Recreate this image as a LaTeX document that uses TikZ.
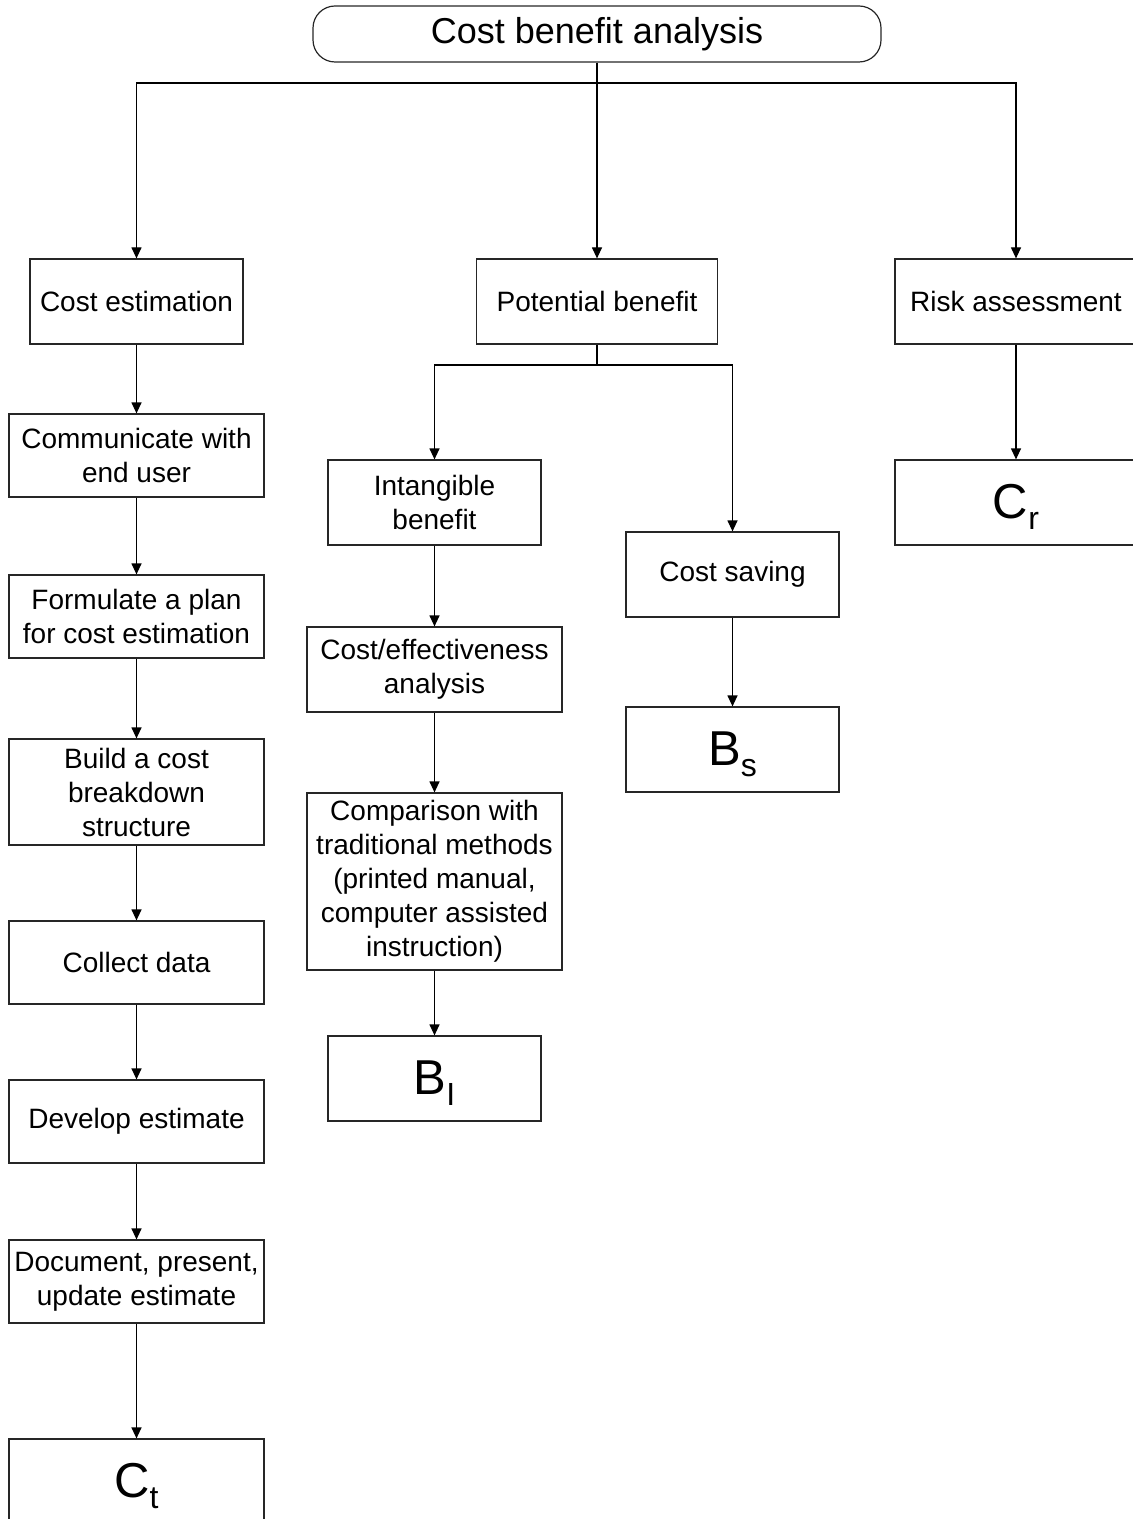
\documentclass[tikz,border=0pt]{standalone}
\usepackage{fontspec}
\setmainfont{Liberation Sans}
\usetikzlibrary{arrows.meta}

% big symbol with a subscript, e.g. C_t (the subscript does not affect centring)
\newcommand{\bigsym}[2]{{\fontsize{24.5}{24.5}\selectfont\raisebox{1pt}{#1\smash{\raisebox{-0.22em}{\fontsize{16}{16}\selectfont #2}}}}}

\tikzset{
  box/.style={draw=black!85, line width=0.6pt, rectangle, inner sep=0pt,
    align=center, font=\fontsize{14}{17}\selectfont},
  wbox/.style={box, minimum width=127.5pt, minimum height=41.5pt},
  nbox/.style={box, minimum width=106.5pt, minimum height=42.5pt},
  rootbox/.style={draw=black!85, line width=0.6pt, rounded corners=11pt,
    inner sep=0pt, minimum width=284pt, minimum height=28pt,
    font=\fontsize{18}{21}\selectfont},
  link/.style={line width=0.6pt, -{Triangle[length=5.5pt,width=5pt]}},
  plain/.style={line width=0.6pt},
}

\begin{document}
\begin{tikzpicture}[x=0.5pt, y=-0.5pt]
  \useasboundingbox (0,0) rectangle (1133,1519);
  \clip (0,0) rectangle (1133,1519);

  % root
  \node[rootbox] (root) at (597,34) {Cost benefit analysis};

  % first level
  \node[nbox] (ce) at (136.5,301.5) {Cost estimation};
  \node[nbox, minimum width=120.5pt] (pb) at (597,301.5) {Potential benefit};
  \node[nbox, minimum width=121pt] (ra) at (1016,301.5) {Risk assessment};

  % cost estimation chain
  \node[wbox] (comm) at (136.5,455.5) {Communicate with\\end user};
  \node[wbox] (form) at (136.5,616.5) {Formulate a plan\\for cost estimation};
  \node[wbox, minimum height=53pt] (build) at (136.5,792) {Build a cost\\breakdown\\structure};
  \node[wbox] (coll) at (136.5,962.5) {Collect data};
  \node[wbox] (dev) at (136.5,1121.5) {Develop estimate};
  \node[wbox] (doc) at (136.5,1281.5) {Document, present,\\update estimate};
  \node[wbox, minimum height=42.5pt] (ct) at (136.5,1481.5) {\bigsym{C}{t}};

  % potential benefit branches
  \node[nbox] (ib) at (434.5,502.5) {Intangible\\benefit};
  \node[wbox, minimum height=42.5pt] (cea) at (434.5,669.5) {Cost/effectiveness\\analysis};
  \node[wbox, minimum height=88.5pt] (cmp) at (434.5,881.5)
    {Comparison with\\traditional methods\\(printed manual,\\computer assisted\\instruction)};
  \node[nbox] (bi) at (434.5,1078.5) {\bigsym{B}{I}};
  \node[nbox] (cs) at (732.5,574.5) {Cost saving};
  \node[nbox] (bs) at (732.5,749.5) {\bigsym{B}{s}};

  % risk assessment
  \node[nbox, minimum width=121pt] (cr) at (1016,502.5) {\bigsym{C}{r}};

  % junction points
  \coordinate (bus) at (597,83);
  \coordinate (subbus) at (597,365);

  % top level connectors
  \draw[link] (root.south) -- (pb.north);
  \draw[link] (bus) -| (ce.north);
  \draw[link] (bus) -| (ra.north);

  % cost estimation chain
  \draw[link] (ce) -- (comm);
  \draw[link] (comm) -- (form);
  \draw[link] (form) -- (build);
  \draw[link] (build) -- (coll);
  \draw[link] (coll) -- (dev);
  \draw[link] (dev) -- (doc);
  \draw[link] (doc) -- (ct);

  % potential benefit
  \draw[plain] (pb.south) -- (subbus);
  \draw[link] (subbus) -| (ib.north);
  \draw[link] (subbus) -| (cs.north);
  \draw[link] (ib) -- (cea);
  \draw[link] (cea) -- (cmp);
  \draw[link] (cmp) -- (bi);
  \draw[link] (cs) -- (bs);

  % risk assessment
  \draw[link] (ra) -- (cr);
\end{tikzpicture}
\end{document}
